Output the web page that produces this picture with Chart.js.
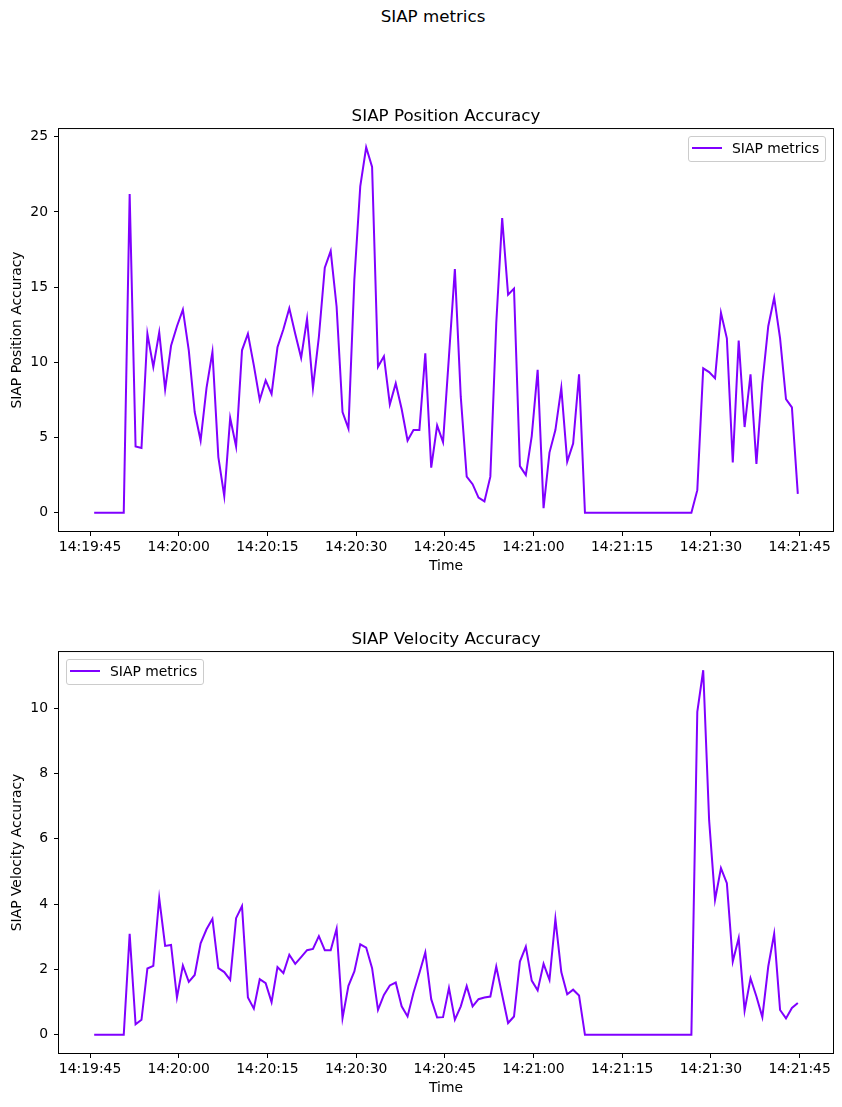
<!DOCTYPE html>
<html>
<head>
<meta charset="utf-8">
<title>SIAP metrics</title>
<script src="https://cdn.jsdelivr.net/npm/chart.js@4.4.1/dist/chart.umd.min.js"></script>
<style>
    body { margin: 0; background: #fff; }
    #page { position: relative; width: 842px; height: 1107px; font-family: "DejaVu Sans", sans-serif; color: #000; }
    canvas { position: absolute; left: 0; }
    .suptitle { position: absolute; top: 5px; left: 333px; width: 200px; text-align: center; font-size: 16.7px; line-height: 22px; }
    .legend { position: absolute; box-sizing: border-box; width: 138px; height: 26px; border: 1px solid #cccccc; border-radius: 3px; background: rgba(255, 255, 255, 0.8); }
    .legend i { position: absolute; left: 3px; top: 10px; width: 30px; height: 2px; background: #8000ff; }
    .legend span { position: absolute; left: 43px; top: 0; font-size: 13.9px; line-height: 23px; white-space: nowrap; }
</style>
</head>
<body>
<div id="page">
    <div class="suptitle">SIAP metrics</div>
    <canvas id="positionChart" width="842" height="480" style="top:105px"></canvas>
    <canvas id="velocityChart" width="842" height="479" style="top:628px"></canvas>
    <div class="legend" style="left:688px; top:136px"><i></i><span>SIAP metrics</span></div>
    <div class="legend" style="left:66px; top:659px"><i></i><span>SIAP metrics</span></div>
</div>
<script>
const firstSample = "14:19:45.7";

const positionAccuracy = [
    0, 0, 0, 0, 0, 0, 21.2, 4.4, 4.3, 11.9,
    9.7, 12.0, 8.2, 11.1, 12.4, 13.5, 10.8, 6.7, 4.8, 8.3,
    10.7, 3.7, 1.1, 6.3, 4.4, 10.8, 11.9, 9.8, 7.5, 8.8,
    7.9, 11.0, 12.2, 13.6, 11.9, 10.3, 12.9, 8.3, 11.7, 16.3,
    17.4, 13.7, 6.7, 5.6, 15.5, 21.7, 24.3, 23.0, 9.7, 10.4,
    7.2, 8.6, 6.9, 4.8, 5.5, 5.5, 10.6, 3.0, 5.8, 4.7,
    10.4, 16.2, 7.7, 2.4, 1.9, 1.0, 0.75, 2.4, 12.6, 19.6,
    14.5, 14.9, 3.1, 2.5, 5.1, 9.5, 0.3, 4.0, 5.5, 8.3,
    3.4, 4.6, 9.2, 0, 0, 0, 0, 0, 0, 0,
    0, 0, 0, 0, 0, 0, 0, 0, 0, 0,
    0, 0, 1.5, 9.6, 9.35, 8.95, 13.3, 11.6, 3.35, 11.45,
    5.7, 9.2, 3.25, 8.6, 12.4, 14.3, 11.6, 7.55, 7.0, 1.25
];

const velocityAccuracy = [
    0, 0, 0, 0, 0, 0, 3.09, 0.32, 0.46, 2.03,
    2.11, 4.18, 2.72, 2.75, 1.14, 2.12, 1.62, 1.83, 2.8, 3.23,
    3.55, 2.04, 1.92, 1.68, 3.57, 3.94, 1.14, 0.8, 1.7, 1.58,
    1.0, 2.07, 1.89, 2.45, 2.17, 2.38, 2.59, 2.63, 3.02, 2.59,
    2.59, 3.25, 0.51, 1.5, 1.94, 2.77, 2.67, 2.04, 0.76, 1.22,
    1.51, 1.6, 0.87, 0.56, 1.29, 1.89, 2.52, 1.09, 0.53, 0.54,
    1.43, 0.46, 0.87, 1.49, 0.87, 1.09, 1.14, 1.17, 2.09, 1.22,
    0.36, 0.56, 2.24, 2.7, 1.66, 1.36, 2.17, 1.68, 3.55, 1.92,
    1.24, 1.38, 1.2, 0, 0, 0, 0, 0, 0, 0,
    0, 0, 0, 0, 0, 0, 0, 0, 0, 0,
    0, 0, 9.89, 11.16, 6.57, 4.13, 5.1, 4.64, 2.24, 2.96,
    0.74, 1.73, 1.17, 0.54, 2.09, 3.09, 0.76, 0.5, 0.82, 0.97
];

const timeTicks = ["14:19:45", "14:20:00", "14:20:15", "14:20:30", "14:20:45", "14:21:00", "14:21:15", "14:21:30", "14:21:45"];
const positionTicks = [0, 5, 10, 15, 20, 25];
const velocityTicks = [0, 2, 4, 6, 8, 10];

const lineColor = "#8000ff";

Chart.defaults.font.family = "'DejaVu Sans', sans-serif";
Chart.defaults.color = "#000";

function toSeconds(text) {
    const [h, m, s] = text.split(":").map(Number);
    return h * 3600 + m * 60 + s;
}

function formatTime(seconds) {
    const h = Math.floor(seconds / 3600);
    const m = Math.floor((seconds % 3600) / 60);
    const s = Math.round(seconds % 60);
    return [h, m, s].map((v) => `${v}`.padStart(2, "0")).join(":");
}

function withMargins(lo, hi) {
    const pad = (hi - lo) * 0.05;
    return { min: lo - pad, max: hi + pad };
}

// matplotlib-like closed frame around the plot area
const framePlugin = {
    id: "frame",
    afterDatasetsDraw(chart) {
        const { ctx, chartArea: a } = chart;
        ctx.save();
        ctx.strokeStyle = "#000";
        ctx.lineWidth = 1;
        ctx.strokeRect(a.left - 0.5, a.top - 0.5, a.right - a.left + 1, a.bottom - a.top + 1);
        ctx.restore();
    }
};

function renderChart(canvasId, values, yTicks, yLabel, title) {
    const start = toSeconds(firstSample);
    const points = values.map((v, i) => ({ x: start + i, y: v }));
    const xRange = withMargins(points[0].x, points[points.length - 1].x);
    const yRange = withMargins(Math.min(...values), Math.max(...values));

    return new Chart(document.getElementById(canvasId), {
        type: "line",
        data: {
            datasets: [{
                label: "SIAP metrics",
                data: points,
                borderColor: lineColor,
                borderWidth: 2,
                pointRadius: 0,
                tension: 0,
                fill: false
            }]
        },
        options: {
            responsive: false,
            animation: false,
            devicePixelRatio: 1,
            layout: { padding: { left: 0, right: 9, top: 0, bottom: 0 } },
            plugins: {
                legend: { display: false },
                tooltip: { enabled: false },
                title: {
                    display: true,
                    fullSize: false,
                    text: title,
                    color: "#000",
                    font: { size: 16.7, weight: "normal" },
                    padding: { top: 2, bottom: 2 }
                }
            },
            scales: {
                x: {
                    type: "linear",
                    min: xRange.min,
                    max: xRange.max,
                    afterBuildTicks: (scale) => {
                        scale.ticks = timeTicks.map((t) => ({ value: toSeconds(t) }));
                    },
                    afterFit: (scale) => { scale.height = 54; },
                    ticks: {
                        autoSkip: false,
                        maxRotation: 0,
                        padding: 3,
                        font: { size: 13.9 },
                        callback: (value) => formatTime(value)
                    },
                    grid: { drawOnChartArea: false, drawTicks: true, tickLength: 5, color: "#000" },
                    border: { display: false },
                    title: { display: true, text: "Time", font: { size: 13.9 }, padding: { top: 0, bottom: 10 } }
                },
                y: {
                    min: yRange.min,
                    max: yRange.max,
                    afterBuildTicks: (scale) => {
                        scale.ticks = yTicks.map((v) => ({ value: v }));
                    },
                    afterFit: (scale) => { scale.width = 59; },
                    ticks: {
                        padding: 6,
                        font: { size: 13.9 },
                        callback: (value) => `${value}`
                    },
                    grid: { drawOnChartArea: false, drawTicks: true, tickLength: 5, color: "#000" },
                    border: { display: false },
                    title: { display: true, text: yLabel, font: { size: 13.9 }, padding: { top: 8.7, bottom: 0 } }
                }
            }
        },
        plugins: [framePlugin]
    });
}

renderChart("positionChart", positionAccuracy, positionTicks, "SIAP Position Accuracy", "SIAP Position Accuracy");
renderChart("velocityChart", velocityAccuracy, velocityTicks, "SIAP Velocity Accuracy", "SIAP Velocity Accuracy");
</script>
</body>
</html>
